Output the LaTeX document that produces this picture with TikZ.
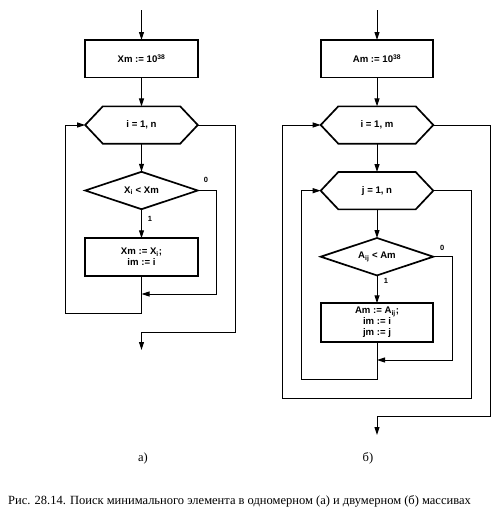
\documentclass[tikz,border=0pt]{standalone}
\usepackage{fontspec}
\setmainfont{Liberation Serif}
\newfontfamily\chartfont{Liberation Sans}
\usetikzlibrary{arrows.meta,shapes.geometric}

% Outline of a loop header: a flat hexagon laid over a plain node.
\newcommand\loopoutline[1]{%
  \draw[edgeline] (#1.west) -- ([xshift=17.6pt]#1.north west)
    -- ([xshift=-17.6pt]#1.north east) -- (#1.east)
    -- ([xshift=-17.6pt]#1.south east) -- ([xshift=17.6pt]#1.south west) -- cycle;}

\tikzset{
  edgeline/.style={line width=1.7pt, line join=miter},
  chart/.style={font=\chartfont\bfseries\fontsize{9.6}{11}\selectfont},
  procbox/.style={chart, draw, edgeline, rectangle, minimum width=112.6pt,
    minimum height=37.4pt, inner sep=0pt, outer sep=0pt, align=center},
  loopbox/.style={chart, rectangle, minimum width=112.6pt,
    minimum height=37.3pt, inner sep=0pt, outer sep=0pt},
  testbox/.style={chart, draw, edgeline, diamond, aspect=3, minimum width=112.6pt,
    minimum height=37.4pt, inner sep=0pt, outer sep=0pt},
  flow/.style={line width=1pt, -{Triangle[length=8pt,width=5pt]}},
  tag/.style={font=\chartfont\bfseries\fontsize{7.5}{8}\selectfont, inner sep=0pt},
}

\begin{document}
\begin{tikzpicture}[x=1pt,y=-1pt]
  % Match the page to the reference frame.
  \useasboundingbox (0,0) rectangle (500,522);

  % Left chart (a): one-dimensional search.
  \coordinate (in1) at (141.5,10);
  \node[procbox] (init1) at (141.5,58.7) {Xm := 10\textsuperscript{38}};
  \node[loopbox] (loop1) at (141.5,125) {i = 1, n};
  \loopoutline{loop1}
  \node[testbox] (test1) at (141.5,190.5) {X\textsubscript{i} < Xm};
  \node[procbox] (set1) at (141.5,257) {Xm := X\textsubscript{i};\\im := i};

  % Corner points of the left chart's connectors.
  \coordinate (jr1) at (216.7,294);
  \coordinate (join1) at (141.5,294);
  \coordinate (back1) at (141.5,313);
  \coordinate (lb1) at (65.7,125);
  \coordinate (ex1) at (235.7,332.3);
  \coordinate (exl1) at (141.5,332.3);
  \coordinate (out1) at (141.5,350);

  \draw[flow] (in1) -- (init1);
  \draw[flow] (init1) -- (loop1);
  \draw[flow] (loop1) -- (test1);
  \draw[flow] (test1) -- (set1);
  \draw[flow] (test1.east) -| (jr1) -- (join1);
  \draw[flow] (set1.south) -- (back1) -| (lb1) -- (loop1.west);
  \draw[flow] (loop1.east) -| (ex1) -- (exl1) -- (out1);
  \node[tag] (no1) at (206,180) {0};
  \node[tag] (yes1) at (150,219) {1};

  % Right chart (b): two-dimensional search.
  \coordinate (in2) at (377,10);
  \node[procbox] (init2) at (377,58.7) {Am := 10\textsuperscript{38}};
  \node[loopbox] (loop2) at (377,125) {i = 1, m};
  \loopoutline{loop2}
  \node[loopbox] (loop3) at (377,190.7) {j = 1, n};
  \loopoutline{loop3}
  \node[testbox] (test2) at (377,256.7) {A\textsubscript{ij} < Am};
  \node[procbox, minimum height=38.4pt] (set2) at (377,322.5)
    {Am := A\textsubscript{ij};\\im := i\\jm := j};

  % Corner points of the right chart's connectors.
  \coordinate (jr2) at (452.3,360);
  \coordinate (join2) at (377,360);
  \coordinate (back2) at (377,379);
  \coordinate (lb3) at (301.7,190.7);
  \coordinate (rb3) at (471.7,398.3);
  \coordinate (bl2) at (282.7,398.3);
  \coordinate (ex2) at (490,416.7);
  \coordinate (exl2) at (377,416.7);
  \coordinate (out2) at (377,435);

  \draw[flow] (in2) -- (init2);
  \draw[flow] (init2) -- (loop2);
  \draw[flow] (loop2) -- (loop3);
  \draw[flow] (loop3) -- (test2);
  \draw[flow] (test2) -- (set2);
  \draw[flow] (test2.east) -| (jr2) -- (join2);
  \draw[flow] (set2.south) -- (back2) -| (lb3) -- (loop3.west);
  \draw[flow] (loop3.east) -| (rb3) -- (bl2) |- (loop2.west);
  \draw[flow] (loop2.east) -| (ex2) -- (exl2) -- (out2);
  \node[tag] (no2) at (442.3,248.3) {0};
  \node[tag] (yes2) at (386,280.7) {1};

  % Sub-figure marks and caption.
  \node[font=\fontsize{12.5}{14}\selectfont] (mark1) at (143,458) {а)};
  \node[font=\fontsize{12.5}{14}\selectfont] (mark2) at (368,458) {б)};
  \node[font=\fontsize{12.5}{14}\selectfont] (caption) at (239.5,501.7)
    {Рис. 28.14. Поиск минимального элемента в одномерном (а) и двумерном (б) массивах};
\end{tikzpicture}
\end{document}
